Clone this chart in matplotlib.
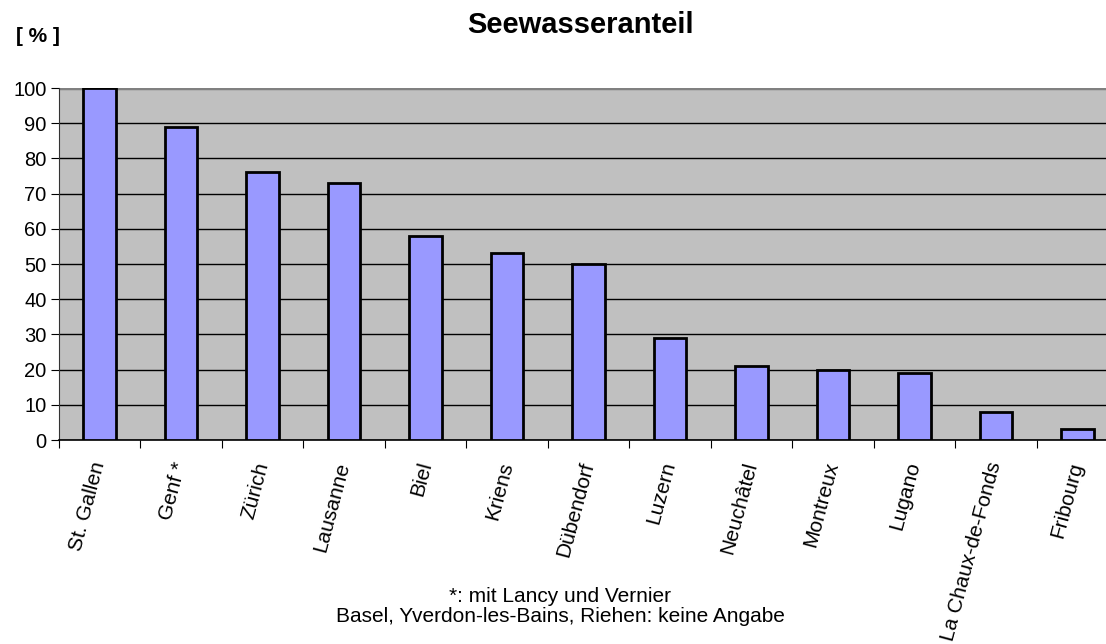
import numpy as np
import matplotlib
matplotlib.use("Agg")
import matplotlib.pyplot as plt

# Seewasseranteil nach Stadt
staedte = ["St. Gallen", "Genf *", "Zürich", "Lausanne", "Biel", "Kriens",
           "Dübendorf", "Luzern", "Neuchâtel", "Montreux", "Lugano",
           "La Chaux-de-Fonds", "Fribourg"]
anteil = [100, 89, 76, 73, 58, 53, 50, 29, 21, 20, 19, 8, 3]
y_ticks = list(range(0, 101, 10))

plt.rcParams['font.family'] = ['Liberation Sans', 'DejaVu Sans']

fig = plt.figure(figsize=(11.06, 6.44), dpi=100)
W, H = 1106, 644
ax = fig.add_axes([59 / W, (H - 440) / H, (1118 - 59) / W, 352 / H])
ax.set_facecolor("#C0C0C0")

x = np.arange(len(staedte))
ax.bar(x, anteil, width=0.4, color="#9999FF", edgecolor="black",
       linewidth=2, zorder=3)

ax.set_xlim(-0.5, len(staedte) - 0.5)
ax.set_ylim(0, 100)
ax.set_yticks(y_ticks)
ax.tick_params(axis='y', labelsize=14.5, length=6, direction='out',
               color='black', pad=3)
ax.yaxis.grid(True, color='black', linewidth=1, zorder=1)

# tick marks between categories, labels at centres
ax.set_xticks(np.arange(len(staedte) + 1) - 0.5)
ax.set_xticklabels([])
ax.tick_params(axis='x', which='major', length=6, direction='out', color='black')
ax.set_xticks(x, minor=True)
ax.set_xticklabels(staedte, minor=True, rotation=75, ha='right', va='center',
                   rotation_mode='anchor', fontsize=15)
ax.tick_params(axis='x', which='minor', length=0, pad=16)

for s in ['top', 'right']:
    ax.spines[s].set_visible(False)
ax.spines['left'].set_color('#333333')
ax.spines['bottom'].set_color('black')
ax.spines['bottom'].set_linewidth(1.2)
ax.axhline(100, color='#808080', linewidth=2.5, zorder=2)

fig.text(581 / W, 1 - 25 / H, "Seewasseranteil", ha='center', va='center',
         fontsize=21, fontweight='bold')
fig.text(38 / W, 1 - 37 / H, "[ % ]", ha='center', va='center',
         fontsize=15, fontweight='bold')
fig.text(560 / W, 1 - 596 / H, "*: mit Lancy und Vernier", ha='center',
         va='center', fontsize=15)
fig.text(560 / W, 1 - 617 / H, "Basel, Yverdon-les-Bains, Riehen: keine Angabe",
         ha='center', va='center', fontsize=15)

fig.savefig("out.png", dpi=100)
